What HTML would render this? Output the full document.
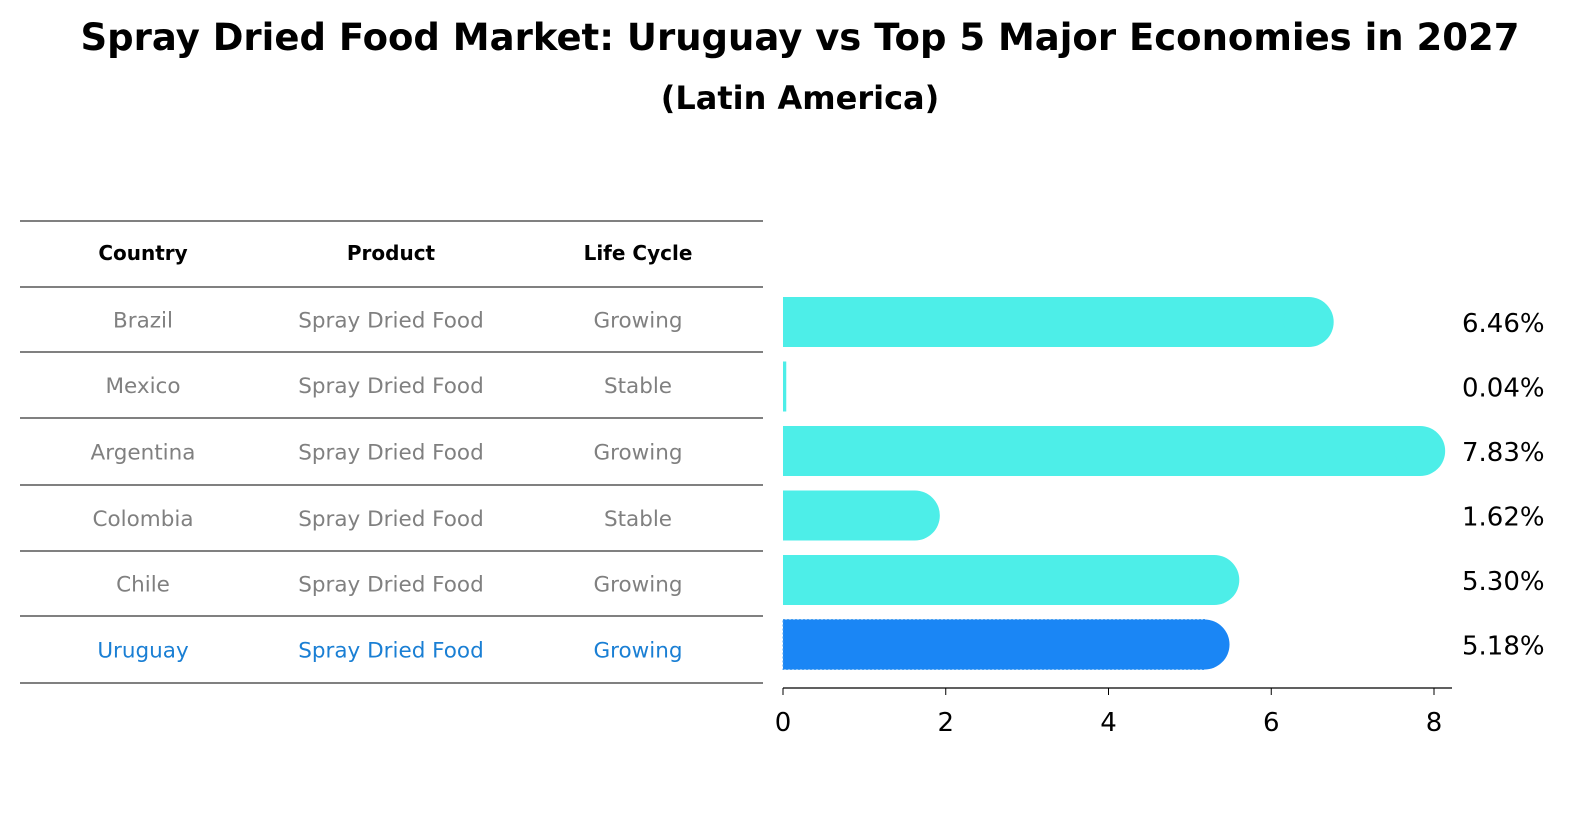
<!DOCTYPE html>
<html><head><meta charset="utf-8"><style>
body{margin:0;background:#fff;}
svg text{font-family:"DejaVu Sans","Liberation Sans",sans-serif;}
</style></head><body>
<svg width="1586" height="823" viewBox="0 0 1586 823">
<text x="800" y="50" text-anchor="middle" font-size="37" font-weight="bold">Spray Dried Food Market: Uruguay vs Top 5 Major Economies in 2027</text>
<text x="800" y="109" text-anchor="middle" font-size="32" font-weight="bold">(Latin America)</text>
<g id="table"></g>
<g id="bars"></g>
</svg>
<script>
const countries=["Brazil","Mexico","Argentina","Colombia","Chile","Uruguay"];
const products=["Spray Dried Food","Spray Dried Food","Spray Dried Food","Spray Dried Food","Spray Dried Food","Spray Dried Food"];
const lifeCycles=["Growing","Stable","Growing","Stable","Growing","Growing"];
const values=[6.46,0.04,7.83,1.62,5.30,5.18];
const valueLabels=["6.46%","0.04%","7.83%","1.62%","5.30%","5.18%"];
const xTicks=[0,2,4,6,8];
const NS="http://www.w3.org/2000/svg";
function mk(tag,attrs,parent,text){const e=document.createElementNS(NS,tag);for(const k in attrs)e.setAttribute(k,attrs[k]);if(text!==undefined)e.textContent=text;parent.appendChild(e);return e;}
const table=document.getElementById('table'),bars=document.getElementById('bars');
const lineYs=[221,287,352,418,485,551,616,683];
lineYs.forEach((y,i)=>{const l=mk('line',{x1:20,x2:763,y1:y,y2:y,stroke:'#000','stroke-width':1},table);

});
const colX=[143,391,638];
["Country","Product","Life Cycle"].forEach((h,i)=>{const t=mk('text',{x:colX[i],y:260,'text-anchor':'middle','font-size':20,'font-weight':'bold'},table,h);

});
const rowY=i=>(lineYs[i+1]+lineYs[i+2])/2;
countries.forEach((c,i)=>{const col=i===countries.length-1?'#1a7fd4':'#808080';
[c,products[i],lifeCycles[i]].forEach((v,j)=>{const t=mk('text',{x:colX[j],y:rowY(i)+8,'text-anchor':'middle','font-size':21.5,fill:col},table,v);

});});
const x0=783,x1=1434,xs=v=>x0+(x1-x0)*v/8;
const barY=i=>322+i*64.5,bh=50,r=25;
values.forEach((v,i)=>{const last=i===values.length-1;const fill=last?'#1a86f5':'#4deee8';
const g=mk('g',{},bars);


const w=xs(v)-x0;
mk('rect',{x:x0,y:barY(i)-bh/2,width:Math.max(w,1),height:bh,fill:fill,stroke:last?'#4aa0f0':'none','stroke-dasharray':'2,2'},g);
if(v>0.5)mk('circle',{cx:xs(v),cy:barY(i),r:r,fill:fill},g);
const t=mk('text',{x:1462,y:barY(i)+10,'font-size':26},bars,valueLabels[i]);

});
const ax=mk('line',{x1:x0,x2:1452,y1:688,y2:688,stroke:'#000','stroke-width':1.2},bars);


xTicks.forEach(v=>{mk('line',{x1:xs(v),x2:xs(v),y1:688,y2:695,stroke:'#000'},bars);
const t=mk('text',{x:xs(v),y:731,'text-anchor':'middle','font-size':26},bars,String(v));

});
</script>
</body></html>
